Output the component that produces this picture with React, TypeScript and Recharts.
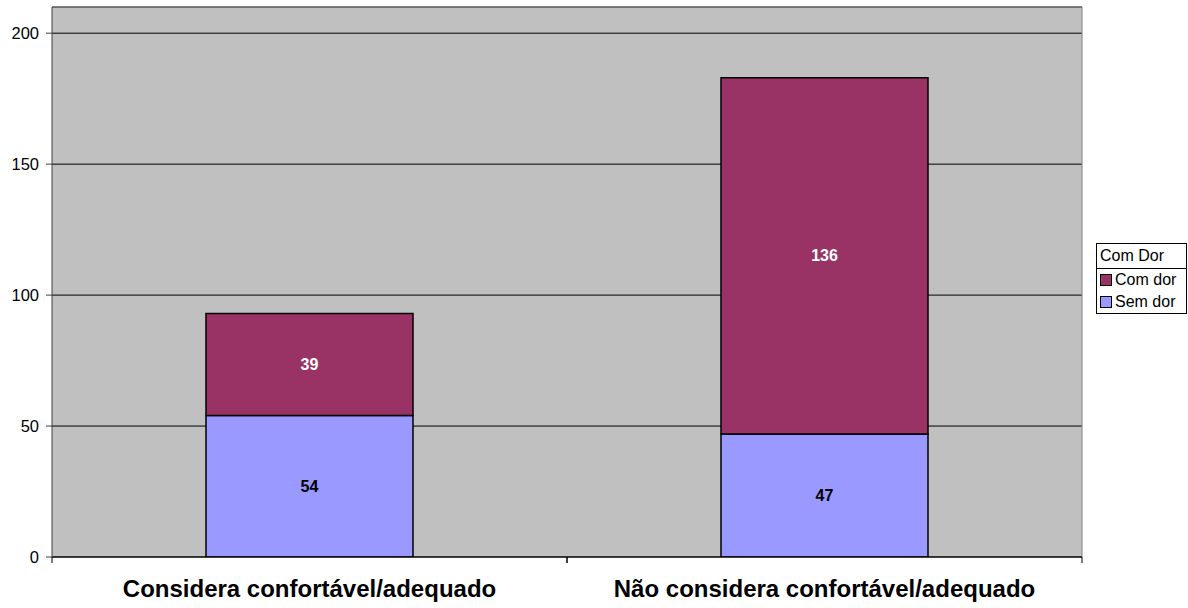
import React from 'react';
import {
  BarChart, Bar, XAxis, YAxis, CartesianGrid, LabelList
} from 'recharts';

const categories = ['Considera confortável/adequado', 'Não considera confortável/adequado'];
const semDor = [54, 47];
const comDor = [39, 136];
const yTicks = [0, 50, 100, 150, 200];
const legendTitle = 'Com Dor';

const data = categories.map((name, i) => ({
  name,
  semDor: semDor[i],
  comDor: comDor[i],
}));

const FONT = 'Arial, "Liberation Sans", Helvetica, sans-serif';

// category label plus the small tick marks on the band edges
function CategoryTick(props: any) {
  const { x, y, payload, width, visibleTicksCount } = props;
  const band = width / (visibleTicksCount || 2);
  return (
    <g>
      <line x1={x - band / 2} y1={y - 8} x2={x - band / 2} y2={y - 2} stroke="#000" />
      <line x1={x + band / 2} y1={y - 8} x2={x + band / 2} y2={y - 2} stroke="#000" />
      <text x={x} y={y + 32} textAnchor="middle" fontFamily={FONT} fontSize={24}
        fontWeight="bold" fill="#000">{payload.value}</text>
    </g>
  );
}

function LegendBox() {
  const row = { display: 'flex', alignItems: 'center', height: 22, paddingLeft: 3 } as const;
  const swatch = (c: string) => ({
    width: 10, height: 10, background: c, border: '1px solid #000', marginRight: 3,
  });
  return (
    <div style={{
      position: 'absolute', left: 1096, top: 243, width: 89,
      border: '1px solid #000', background: '#fff', fontFamily: FONT,
      fontSize: 16, color: '#000', lineHeight: '18px',
    }}>
      <div style={{ padding: '3px 3px', borderBottom: '1px solid #000' }}>{legendTitle}</div>
      <div style={row}><span style={swatch('#993366')} />Com dor</div>
      <div style={row}><span style={swatch('#9999ff')} />Sem dor</div>
    </div>
  );
}

export default function App() {
  return (
    <div style={{ position: 'absolute', left: 0, top: 0, width: 1188, height: 608, background: '#fff' }}>
      <BarChart width={1188} height={608} data={data}
        margin={{ top: 7, right: 106, bottom: 0, left: 0 }} barCategoryGap={0}>
        <CartesianGrid vertical={false} stroke="#000" fill="#c0c0c0" fillOpacity={1} />
        <CartesianGrid horizontalPoints={[7]} verticalPoints={[1082]} stroke="#808080" />
        <XAxis dataKey="name" height={51} stroke="#000" tickLine={false}
          tick={<CategoryTick />} interval={0} />
        <YAxis width={52} domain={[0, 210]} ticks={yTicks} stroke="#404040" tickSize={6}
          tickMargin={7} tick={{ fill: '#000', fontSize: 16.5, fontFamily: FONT }} allowDataOverflow />
        <Bar dataKey="semDor" stackId="a" fill="#9999ff" stroke="#000" strokeWidth={1.5}
          barSize={207} isAnimationActive={false}>
          <LabelList dataKey="semDor" position="center" fill="#000" fontWeight="bold"
            fontSize={16} fontFamily={FONT} />
        </Bar>
        <Bar dataKey="comDor" stackId="a" fill="#993366" stroke="#000" strokeWidth={1.5}
          barSize={207} isAnimationActive={false}>
          <LabelList dataKey="comDor" position="center" fill="#fff" fontWeight="bold"
            fontSize={16} fontFamily={FONT} />
        </Bar>
      </BarChart>
      <LegendBox />
    </div>
  );
}
